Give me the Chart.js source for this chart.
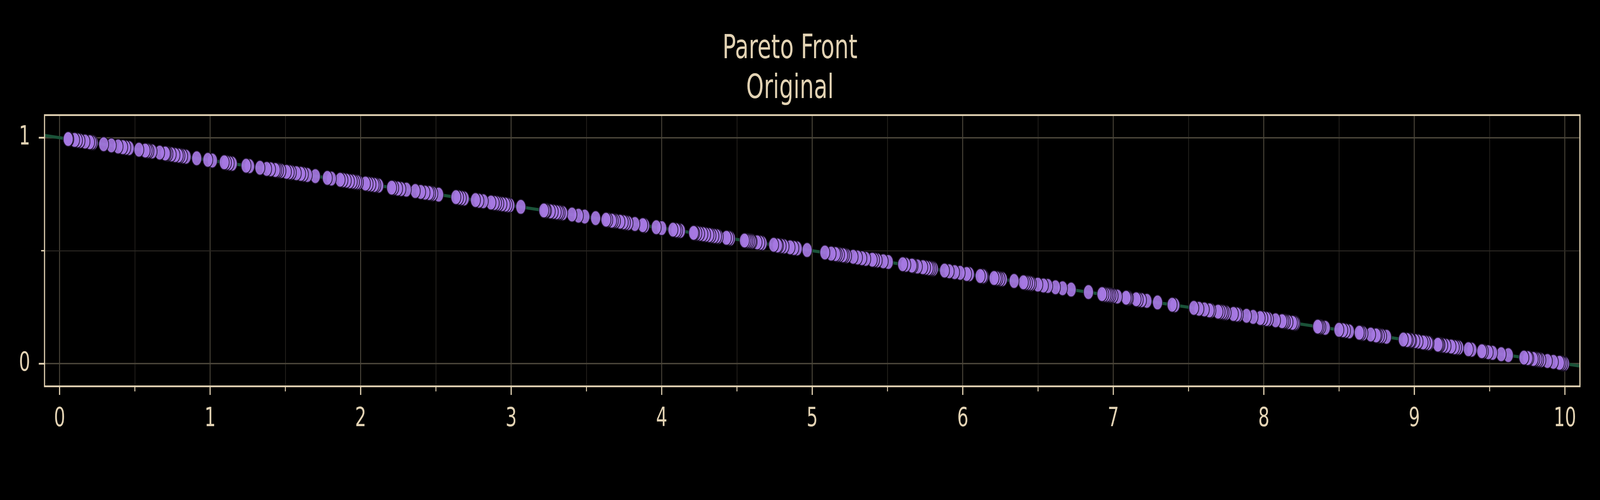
<!DOCTYPE html>
<html>
<head>
<meta charset="utf-8">
<title>Pareto Front</title>
<script src="https://cdn.jsdelivr.net/npm/chart.js@4.4.1/dist/chart.umd.min.js"></script>
<style>
  html, body { margin: 0; padding: 0; background: #000; overflow: hidden; }
  canvas { display: block; transform-origin: 0 0; }
</style>
</head>
<body>
<canvas id="chart-pareto" width="6144" height="1280"></canvas>
<script>
// title lines
var titleLines = ['Pareto Front', 'Original'];

var frontX = [
  0.057, 0.062, 0.100, 0.119, 0.136, 0.169, 0.200, 0.213, 0.222, 0.293, 0.344, 0.389, 0.420, 0.440, 0.462, 0.527, 0.569, 0.582, 0.593, 0.615, 0.665, 0.702, 0.709, 0.720, 0.742, 0.767, 0.789, 0.800, 0.818, 0.840, 0.911, 0.985, 1.015,
  1.094, 1.109, 1.127, 1.147, 1.239, 1.262, 1.331, 1.376, 1.402, 1.433, 1.443, 1.455, 1.471, 1.507, 1.526, 1.540, 1.573, 1.602, 1.620, 1.646, 1.699, 1.779, 1.806, 1.864, 1.883, 1.905, 1.926, 1.945, 1.959, 1.974, 1.985, 2.032, 2.050, 2.069, 2.090, 2.101, 2.120,
  2.206, 2.220, 2.246, 2.268, 2.304, 2.363, 2.399, 2.428, 2.454, 2.465, 2.480, 2.518, 2.633, 2.651, 2.669, 2.688, 2.763, 2.786, 2.815, 2.866, 2.888, 2.903, 2.918, 2.939, 2.961, 2.976, 2.991, 3.064, 3.217, 3.228, 3.235, 3.260, 3.280, 3.300, 3.314, 3.325, 3.343,
  3.404, 3.447, 3.489, 3.561, 3.630, 3.642, 3.668, 3.679, 3.693, 3.723, 3.745, 3.759, 3.777, 3.822, 3.874, 3.887, 3.964, 4.000, 4.075, 4.095, 4.106, 4.124, 4.212, 4.219, 4.234, 4.252, 4.274, 4.292, 4.314, 4.328, 4.347, 4.365, 4.376, 4.430,
  4.445, 4.456, 4.550, 4.561, 4.572, 4.583, 4.594, 4.601, 4.634, 4.652, 4.667, 4.744, 4.769, 4.776, 4.794, 4.813, 4.853, 4.878, 4.900, 4.966, 5.084, 5.126, 5.155, 5.166, 5.181, 5.203, 5.214, 5.228, 5.272, 5.301, 5.330, 5.356, 5.399, 5.414, 5.432, 5.472, 5.505,
  5.601, 5.622, 5.662, 5.670, 5.699, 5.735, 5.753, 5.771, 5.782, 5.793, 5.804, 5.879, 5.910, 5.946, 5.983, 6.026, 6.044, 6.116, 6.132, 6.139, 6.208, 6.223, 6.234, 6.248, 6.263, 6.341, 6.403, 6.416, 6.430, 6.445, 6.456, 6.499, 6.536, 6.565, 6.616, 6.663,
  6.720, 6.835, 6.925, 6.938, 6.952, 6.963, 6.974, 6.985, 6.999, 7.027, 7.085, 7.094, 7.101, 7.152, 7.166, 7.188, 7.223, 7.294, 7.391, 7.409, 7.535, 7.569, 7.605, 7.638, 7.649, 7.696, 7.710, 7.725, 7.736, 7.750, 7.798,
  7.820, 7.831, 7.885, 7.929, 7.976, 7.994, 8.016, 8.031, 8.078, 8.121, 8.132, 8.143, 8.161, 8.190, 8.201, 8.209, 8.358, 8.368, 8.379, 8.408, 8.499, 8.525, 8.543, 8.568, 8.634, 8.645, 8.659, 8.710, 8.746, 8.754, 8.768, 8.783, 8.815, 8.927, 8.952,
  8.960, 8.975, 8.982, 9.004, 9.025, 9.058, 9.073, 9.091, 9.098, 9.156, 9.164, 9.171, 9.189, 9.211, 9.244, 9.266, 9.280, 9.295, 9.359, 9.382, 9.448, 9.459, 9.491, 9.520, 9.577, 9.624, 9.728, 9.753, 9.761, 9.790, 9.801, 9.815, 9.826, 9.841, 9.884, 9.924, 9.964, 9.975, 9.986, 9.997
];
var frontY = [
  0.994, 0.994, 0.990, 0.988, 0.986, 0.983, 0.980, 0.979, 0.978, 0.971, 0.966, 0.961, 0.958, 0.956, 0.954, 0.947, 0.943, 0.942, 0.941, 0.939, 0.934, 0.930, 0.929, 0.928, 0.926, 0.923, 0.921, 0.920, 0.918, 0.916, 0.909, 0.902, 0.899,
  0.891, 0.889, 0.887, 0.885, 0.876, 0.874, 0.867, 0.862, 0.860, 0.857, 0.856, 0.855, 0.853, 0.849, 0.847, 0.846, 0.843, 0.840, 0.838, 0.835, 0.830, 0.822, 0.819, 0.814, 0.812, 0.810, 0.807, 0.806, 0.804, 0.803, 0.802, 0.797, 0.795, 0.793, 0.791, 0.790, 0.788,
  0.779, 0.778, 0.775, 0.773, 0.770, 0.764, 0.760, 0.757, 0.755, 0.754, 0.752, 0.748, 0.737, 0.735, 0.733, 0.731, 0.724, 0.721, 0.719, 0.713, 0.711, 0.710, 0.708, 0.706, 0.704, 0.702, 0.701, 0.694, 0.678, 0.677, 0.677, 0.674, 0.672, 0.670, 0.669, 0.668, 0.666,
  0.660, 0.655, 0.651, 0.644, 0.637, 0.636, 0.633, 0.632, 0.631, 0.628, 0.626, 0.624, 0.622, 0.618, 0.613, 0.611, 0.604, 0.600, 0.593, 0.591, 0.589, 0.588, 0.579, 0.578, 0.577, 0.575, 0.573, 0.571, 0.569, 0.567, 0.565, 0.564, 0.562, 0.557,
  0.556, 0.554, 0.545, 0.544, 0.543, 0.542, 0.541, 0.540, 0.537, 0.535, 0.533, 0.526, 0.523, 0.522, 0.521, 0.519, 0.515, 0.512, 0.510, 0.503, 0.492, 0.487, 0.485, 0.483, 0.482, 0.480, 0.479, 0.477, 0.473, 0.470, 0.467, 0.464, 0.460, 0.459, 0.457, 0.453, 0.450,
  0.440, 0.438, 0.434, 0.433, 0.430, 0.427, 0.425, 0.423, 0.422, 0.421, 0.420, 0.412, 0.409, 0.405, 0.402, 0.397, 0.396, 0.388, 0.387, 0.386, 0.379, 0.378, 0.377, 0.375, 0.374, 0.366, 0.360, 0.358, 0.357, 0.356, 0.354, 0.350, 0.346, 0.344, 0.338, 0.334,
  0.328, 0.317, 0.308, 0.306, 0.305, 0.304, 0.303, 0.302, 0.300, 0.297, 0.292, 0.291, 0.290, 0.285, 0.283, 0.281, 0.278, 0.271, 0.261, 0.259, 0.247, 0.243, 0.240, 0.236, 0.235, 0.230, 0.229, 0.228, 0.226, 0.225, 0.220,
  0.218, 0.217, 0.212, 0.207, 0.202, 0.201, 0.198, 0.197, 0.192, 0.188, 0.187, 0.186, 0.184, 0.181, 0.180, 0.179, 0.164, 0.163, 0.162, 0.159, 0.150, 0.148, 0.146, 0.143, 0.137, 0.136, 0.134, 0.129, 0.125, 0.125, 0.123, 0.122, 0.119, 0.107, 0.105,
  0.104, 0.103, 0.102, 0.100, 0.098, 0.094, 0.093, 0.091, 0.090, 0.084, 0.084, 0.083, 0.081, 0.079, 0.076, 0.073, 0.072, 0.071, 0.064, 0.062, 0.055, 0.054, 0.051, 0.048, 0.042, 0.038, 0.027, 0.025, 0.024, 0.021, 0.020, 0.019, 0.017, 0.016, 0.012, 0.008, 0.004, 0.003, 0.001, 0.000
];

// reference (true front) line end points
var refX = [-0.1, 10.1];
var refY = [1.01, -0.01];

// axis limits
var xLimits = [-0.1, 10.1];
var yLimits = [-0.1, 1.1];

var WHEAT = '#e2d2b3';
var GRID_MAJOR = '#4b463a';
var GRID_MINOR = '#2a2722';

function toPoints(xs, ys) {
    var pts = [];
    var n = Math.min(xs.length, ys.length);
    for (var i = 0; i < n; i++) pts.push({x: xs[i], y: ys[i]});
    return pts;
}

function isMajor(v) {
    return Math.abs(v - Math.round(v)) < 1e-9;
}

// matplotlib-like frame + major/minor tick marks
var frameTicks = {
    id: 'frameTicks',
    afterDraw: function(chart) {
        var ctx = chart.ctx, a = chart.chartArea;
        var xs = chart.scales.x, ys = chart.scales.y;
        ctx.save();
        ctx.strokeStyle = WHEAT;
        ctx.lineCap = 'butt';
        xs.ticks.forEach(function(t) {
            var px = xs.getPixelForValue(t.value);
            var major = isMajor(t.value);
            ctx.lineWidth = major ? 4.5 : 3.5;
            ctx.beginPath();
            ctx.moveTo(px, a.bottom);
            ctx.lineTo(px, a.bottom + (major ? 22 : 13));
            ctx.stroke();
        });
        ys.ticks.forEach(function(t) {
            var py = ys.getPixelForValue(t.value);
            var major = isMajor(t.value);
            ctx.lineWidth = major ? 4.5 : 3.5;
            ctx.beginPath();
            ctx.moveTo(a.left, py);
            ctx.lineTo(a.left - (major ? 22 : 13), py);
            ctx.stroke();
        });
        ctx.lineWidth = 4.5;
        ctx.strokeRect(a.left, a.top, a.right - a.left, a.bottom - a.top);
        ctx.restore();
    }
};

// the chart is laid out on a 6144x1280 canvas; fit it to whatever window we get
function fitToWindow(canvas) {
    var sx = (window.innerWidth || 6144) / 6144;
    var sy = (window.innerHeight || 1280) / 1280;
    canvas.style.transform = 'scale(' + sx + ',' + sy + ')';
}

function drawParetoChart() {
    var canvas = document.getElementById('chart-pareto');
    var ctx = canvas.getContext('2d');
    var tickFont = {family: 'DejaVu Sans', size: 68, lineHeight: 1.2};
    var gridOpts = {
        color: function(c) { return c.tick && isMajor(c.tick.value) ? GRID_MAJOR : GRID_MINOR; },
        lineWidth: function(c) { return c.tick && isMajor(c.tick.value) ? 3.5 : 2.5; },
        drawTicks: false
    };
    var chart = new Chart(ctx, {
        type: 'scatter',
        data: {
            datasets: [{
                label: 'Front',
                data: toPoints(frontX, frontY).reverse(),
                backgroundColor: 'rgba(166, 120, 226, 0.92)',
                borderColor: '#1b1226',
                borderWidth: 2.5,
                pointRadius: 19,
                order: 1
            }, {
                type: 'line',
                label: 'Reference',
                data: toPoints(refX, refY),
                borderColor: '#1a5238',
                borderWidth: 8,
                pointRadius: 0,
                fill: false,
                order: 2
            }]
        },
        plugins: [frameTicks],
        options: {
            responsive: false,
            devicePixelRatio: 1,
            animation: false,
            layout: {padding: {top: 75, right: 77, bottom: 0, left: 0}},
            plugins: {
                legend: {display: false},
                tooltip: {enabled: false},
                title: {
                    display: true,
                    text: titleLines,
                    color: WHEAT,
                    font: {family: 'DejaVu Sans', size: 86, weight: 'normal', lineHeight: 1.19},
                    padding: {top: 0, bottom: 15}
                }
            },
            scales: {
                x: {
                    type: 'linear',
                    min: xLimits[0],
                    max: xLimits[1],
                    border: {display: false},
                    grid: gridOpts,
                    ticks: {
                        stepSize: 0.5,
                        includeBounds: false,
                        autoSkip: false,
                        maxRotation: 0,
                        color: WHEAT,
                        font: tickFont,
                        padding: 44,
                        callback: function(v) { return isMajor(v) ? String(Math.round(v)) : ''; }
                    },
                    afterFit: function(s) {
                        s.height = 291;
                        s.paddingLeft = 0; s.paddingRight = 0;
                    }
                },
                y: {
                    type: 'linear',
                    min: yLimits[0],
                    max: yLimits[1],
                    border: {display: false},
                    grid: gridOpts,
                    ticks: {
                        stepSize: 0.5,
                        includeBounds: false,
                        autoSkip: false,
                        color: WHEAT,
                        font: tickFont,
                        padding: 55,
                        callback: function(v) { return isMajor(v) ? String(Math.round(v)) : ''; }
                    },
                    afterFit: function(s) {
                        s.width = 171;
                        s.paddingTop = 0; s.paddingBottom = 0;
                    }
                }
            }
        }
    });
    fitToWindow(canvas);
    return chart;
}

drawParetoChart();
</script>
</body>
</html>
